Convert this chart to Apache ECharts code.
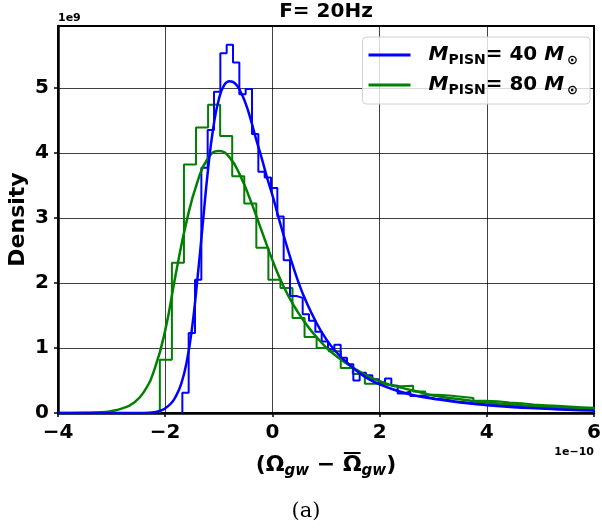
<!DOCTYPE html>
<html><head><meta charset="utf-8">
<script src="https://cdn.jsdelivr.net/npm/echarts@6/dist/echarts.min.js"></script>
<style>html,body{margin:0;padding:0;background:#fff}#c{width:602px;height:529px}</style>
</head><body><div id="c"></div>
<script>
// ---- data ----
const xTicks = [-4, -2, 0, 2, 4, 6];
const yTicks = [0, 1, 2, 3, 4, 5];
const masses = [40, 80];

const blueBinStart = -1.68;
const blueBinWidth = 0.11815;
const blueHist = [0.31, 1.23, 2.05, 3.77, 4.35, 4.94, 5.53, 5.66, 5.39, 4.90,
  4.98, 4.29, 3.71, 3.62, 3.46, 3.02, 2.35, 1.80, 1.77, 1.52,
  1.42, 1.25, 1.10, 0.98, 1.05, 0.85, 0.75, 0.50, 0.62, 0.58,
  0.52, 0.47, 0.53, 0.42, 0.30, 0.33, 0.26, 0.27, 0.24, 0.22,
  0.21, 0.20, 0.18, 0.17, 0.16, 0.15, 0.15, 0.13, 0.14, 0.12,
  0.11, 0.11, 0.10, 0.09, 0.09, 0.08, 0.08, 0.07, 0.07, 0.06,
  0.06, 0.05, 0.05, 0.05, 0.04];

const greenBinStart = -2.10;
const greenBinWidth = 0.225;
const greenHist = [0.82, 2.31, 3.82, 4.39, 4.74, 4.26, 3.64, 3.22, 2.54, 2.05,
  1.92, 1.46, 1.17, 1.00, 0.95, 0.69, 0.60, 0.45, 0.43, 0.41,
  0.42, 0.33, 0.28, 0.27, 0.25, 0.23, 0.19, 0.18, 0.16, 0.15,
  0.13, 0.12, 0.11, 0.10, 0.09, 0.08];

const blueCurveX = [-4.0, -2.5, -2.3, -2.1, -1.9, -1.8, -1.7, -1.6, -1.5, -1.4, -1.3, -1.2, -1.1, -1.0, -0.9, -0.8, -0.7, -0.6, -0.5, -0.4, -0.3, -0.2, -0.1, 0.0, 0.1, 0.2, 0.3, 0.4, 0.5, 0.6, 0.8, 1.0, 1.2, 1.4, 1.6, 1.8, 2.0, 2.3, 2.6, 3.0, 3.5, 4.0, 4.5, 5.0, 5.5, 6.0];
const blueCurveY = [0, 0, 0.005, 0.03, 0.14, 0.26, 0.45, 0.78, 1.30, 2.05, 2.90, 3.75, 4.40, 4.82, 5.04, 5.10, 5.07, 4.95, 4.76, 4.50, 4.20, 3.92, 3.62, 3.35, 3.05, 2.76, 2.48, 2.22, 1.98, 1.77, 1.42, 1.14, 0.93, 0.77, 0.63, 0.52, 0.44, 0.35, 0.28, 0.22, 0.16, 0.12, 0.09, 0.07, 0.05, 0.04];

const greenCurveX = [-4.0, -3.5, -3.2, -3.0, -2.8, -2.6, -2.4, -2.2, -2.0, -1.8, -1.6, -1.4, -1.2, -1.0, -0.8, -0.6, -0.4, -0.2, 0.0, 0.2, 0.4, 0.6, 0.8, 1.0, 1.2, 1.5, 1.8, 2.1, 2.4, 2.7, 3.0, 3.5, 4.0, 4.5, 5.0, 5.5, 6.0];
const greenCurveY = [0, 0.003, 0.01, 0.03, 0.07, 0.15, 0.32, 0.67, 1.27, 2.15, 2.95, 3.55, 3.92, 4.03, 3.93, 3.65, 3.25, 2.80, 2.35, 1.96, 1.65, 1.40, 1.19, 1.01, 0.87, 0.70, 0.56, 0.46, 0.39, 0.33, 0.27, 0.21, 0.16, 0.13, 0.10, 0.08, 0.06];

// ---- build ----
function stepData(start, width, h) {
  const pts = [[start, 0]];
  h.forEach((v, i) => pts.push([start + i * width, v]));
  const end = start + h.length * width;
  pts.push([end, h[h.length - 1]]);
  pts.push([end, 0]);
  return pts;
}
function zip(xs, ys) { return xs.map((x, i) => [x, ys[i]]); }

const FONT = 'DejaVu Sans';
const BLUE = '#0000ff', GREEN = '#008000';
const names = masses.map(m => 'M' + m);

// layout
const G = {left: 58, right: 8, top: 26, bottom: 116};
const W = 602, H = 529;
const NAME_GAP = 38;
const pFont = 'bold 22px "DejaVu Sans"';
const sFont = 'bold italic 15px "DejaVu Sans"';

// measure x-axis name to place the bar over the second Omega
const mctx = document.createElement('canvas').getContext('2d');
function tw(t, f) { mctx.font = f; return mctx.measureText(t).width; }
const frags = [['(\u03A9', pFont], ['gw', sFont], [' \u2212 \u03A9', pFont], ['gw', sFont], [')', pFont]];
const total = frags.reduce((a, f) => a + tw(f[0], f[1]), 0);
const cx = G.left + (W - G.left - G.right) / 2;
const omegaW = tw('\u03A9', pFont);
const omega2Right = cx - total / 2 + tw('(\u03A9', pFont) + tw('gw', sFont) + tw(' \u2212 \u03A9', pFont);
const nameTop = H - G.bottom + NAME_GAP;

const chart = echarts.init(document.getElementById('c'), null, {renderer: 'canvas'});
chart.setOption({
  animation: false,
  backgroundColor: '#fff',
  grid: {left: G.left, right: G.right, top: G.top, bottom: G.bottom, containLabel: false, outerBoundsMode: 'none',
    show: true, borderColor: '#000', borderWidth: 2, backgroundColor: 'transparent'},
  xAxis: {
    type: 'value', min: -4, max: 6, interval: 2,
    axisLine: {show: true, onZero: false, lineStyle: {color: '#000', width: 2.5}},
    axisTick: {show: true, inside: false, length: 4, lineStyle: {color: '#000', width: 1.5}, customValues: xTicks},
    axisLabel: {customValues: xTicks, color: '#000', fontSize: 20, fontWeight: 'bold', fontFamily: FONT, margin: 10,
      formatter: v => (v < 0 ? '\u2212' + Math.abs(v) : String(v))},
    splitLine: {show: true, lineStyle: {color: '#000', width: 1, opacity: 0.75}},
    name: '{p|(\u03A9}{s|gw}{p| \u2212 \u03A9}{s|gw}{p|)}',
    nameLocation: 'middle', nameGap: NAME_GAP, nameMoveOverlap: false,
    nameTextStyle: {
      rich: {
        p: {fontSize: 22, fontWeight: 'bold', fontFamily: FONT, color: '#000', lineHeight: 28},
        s: {fontSize: 15, fontWeight: 'bold', fontStyle: 'italic', fontFamily: FONT, color: '#000', lineHeight: 12, verticalAlign: 'bottom'}
      }
    }
  },
  yAxis: {
    type: 'value', min: 0, max: 5.95, interval: 1,
    axisLine: {show: true, onZero: false, lineStyle: {color: '#000', width: 2.5}},
    axisTick: {show: true, inside: false, length: 4, lineStyle: {color: '#000', width: 1.5}, customValues: yTicks},
    axisLabel: {customValues: yTicks, color: '#000', fontSize: 20, fontWeight: 'bold', fontFamily: FONT, margin: 9},
    splitLine: {show: true, lineStyle: {color: '#000', width: 1, opacity: 0.75}},
    name: 'Density', nameLocation: 'middle', nameGap: 29, nameRotate: 90, nameMoveOverlap: false,
    nameTextStyle: {fontSize: 22, fontWeight: 'bold', fontFamily: FONT, color: '#000'}
  },
  legend: {
    data: names, orient: 'vertical', right: 12, top: 37,
    icon: 'rect', itemWidth: 42, itemHeight: 3, itemGap: 8,
    padding: [8, 12, 7, 6],
    backgroundColor: 'rgba(255,255,255,0.8)', borderColor: '#d0d0d0', borderWidth: 1, borderRadius: 4,
    formatter: n => '{g|}{m|M}{s|PISN}{t|= ' + n.slice(1) + ' }{m|M}{o|\u2299}',
    textStyle: {
      rich: {
        g: {width: 13, lineHeight: 24},
        m: {fontSize: 20, fontWeight: 'bold', fontStyle: 'italic', fontFamily: FONT, color: '#000', lineHeight: 24},
        s: {fontSize: 14, fontWeight: 'bold', fontFamily: FONT, color: '#000', lineHeight: 11, verticalAlign: 'bottom'},
        t: {fontSize: 20, fontWeight: 'bold', fontFamily: FONT, color: '#000', lineHeight: 24},
        o: {fontSize: 13, fontWeight: 'bold', fontFamily: FONT, color: '#000', lineHeight: 11, verticalAlign: 'bottom', padding: [0, 0, 0, 3]}
      }
    }
  },
  graphic: [
    {type: 'text', x: cx, y: 12, style: {text: 'F= 20Hz', font: 'bold 20px "DejaVu Sans"', fill: '#000', align: 'center', verticalAlign: 'middle'}},
    {type: 'text', x: G.left, y: 24, style: {text: '1e9', font: 'bold 11px "DejaVu Sans"', fill: '#000', align: 'left', verticalAlign: 'bottom'}},
    {type: 'text', x: W - G.right, y: 452, style: {text: '1e\u221210', font: 'bold 11px "DejaVu Sans"', fill: '#000', align: 'right', verticalAlign: 'middle'}},
    {type: 'text', x: 306, y: 512, style: {text: '(a)', font: '21px "DejaVu Serif"', fill: '#000', align: 'center', verticalAlign: 'middle'}},
    {type: 'rect', shape: {x: omega2Right - omegaW + 1, y: nameTop + 1, width: omegaW - 2, height: 2}, style: {fill: '#000'}}
  ],
  series: [
    {name: 'gh', type: 'line', step: 'end', data: stepData(greenBinStart, greenBinWidth, greenHist), symbol: 'none', silent: true,
      lineStyle: {color: GREEN, width: 2}, itemStyle: {color: GREEN}, z: 2},
    {name: 'bh', type: 'line', step: 'end', data: stepData(blueBinStart, blueBinWidth, blueHist), symbol: 'none', silent: true,
      lineStyle: {color: BLUE, width: 2}, itemStyle: {color: BLUE}, z: 3},
    {name: names[1], type: 'line', smooth: 0.5, data: zip(greenCurveX, greenCurveY), symbol: 'none', silent: true,
      lineStyle: {color: GREEN, width: 2.5}, itemStyle: {color: GREEN}, z: 4},
    {name: names[0], type: 'line', smooth: 0.5, data: zip(blueCurveX, blueCurveY), symbol: 'none', silent: true,
      lineStyle: {color: BLUE, width: 2.5}, itemStyle: {color: BLUE}, z: 5}
  ]
});
</script></body></html>
